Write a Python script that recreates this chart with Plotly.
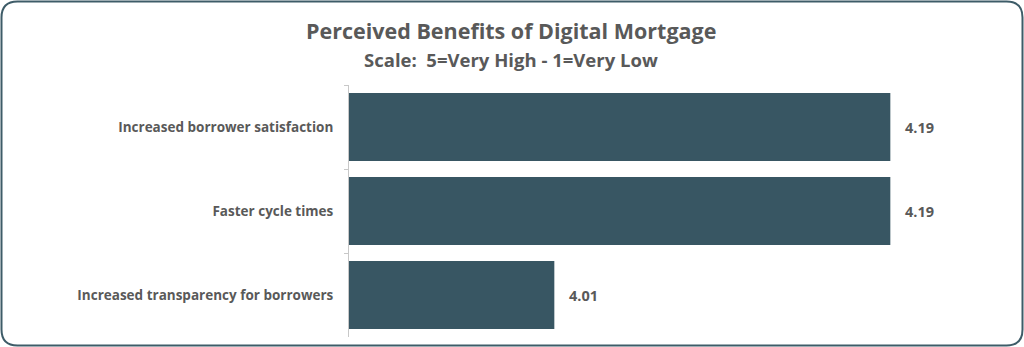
import plotly.graph_objects as go

categories = ["Increased borrower satisfaction", "Faster cycle times", "Increased transparency for borrowers"]
values = [4.19, 4.19, 4.01]
value_labels = ["4.19", "4.19", "4.01"]

W, H = 1024, 347
ML, MR, MT, MB = 349, 115, 85, 10
PW, PH = W - ML - MR, H - MT - MB

def px(x):
    return (x - ML) / PW

def py(y):
    return (H - MB - y) / PH

BAR = "#385663"
GREY = "#595959"
FONT = "Open Sans"

fig = go.Figure()
fig.add_trace(go.Bar(
    x=values, y=categories, orientation="h",
    marker=dict(color=BAR, line=dict(width=0)),
    hoverinfo="skip",
))

for c, v, t in zip(categories, values, value_labels):
    fig.add_annotation(x=v, y=c, text=t, showarrow=False, xanchor="left",
                       xshift=13, font=dict(family=FONT, size=14.5, color=GREY, weight="bold"))

fig.add_annotation(x=px(511), y=py(30), xref="paper", yref="paper", showarrow=False,
                   text="Perceived Benefits of Digital Mortgage", xanchor="center", yanchor="middle",
                   font=dict(family=FONT, size=21.5, color=GREY, weight="bold"))
fig.add_annotation(x=px(511), y=py(60), xref="paper", yref="paper", showarrow=False,
                   text="Scale:\u00a0 5=Very High - 1=Very Low", xanchor="center", yanchor="middle",
                   font=dict(family=FONT, size=18.5, color=GREY, weight="bold"))

# rounded border
x0, x1, y0, y1, r = 1.5, 1022.5, 1.5, 345.5, 16
path = (f"M {px(x0 + r)},{py(y0)} L {px(x1 - r)},{py(y0)} Q {px(x1)},{py(y0)} {px(x1)},{py(y0 + r)} "
        f"L {px(x1)},{py(y1 - r)} Q {px(x1)},{py(y1)} {px(x1 - r)},{py(y1)} "
        f"L {px(x0 + r)},{py(y1)} Q {px(x0)},{py(y1)} {px(x0)},{py(y1 - r)} "
        f"L {px(x0)},{py(y0 + r)} Q {px(x0)},{py(y0)} {px(x0 + r)},{py(y0)} Z")
fig.add_shape(type="path", path=path, xref="paper", yref="paper",
              line=dict(color="#3E5C68", width=2), layer="above")

fig.update_layout(
    width=W, height=H,
    margin=dict(l=ML, r=MR, t=MT, b=MB),
    paper_bgcolor="white", plot_bgcolor="white",
    bargap=0.19, showlegend=False,
    xaxis=dict(range=[3.9, 4.2], visible=False, fixedrange=True),
    yaxis=dict(autorange="reversed", showline=True, linecolor="#C8C8C8", linewidth=1,
               ticks="outside", tickson="boundaries", ticklen=4, tickcolor="#C8C8C8",
               showgrid=False, ticklabelstandoff=12,
               tickfont=dict(family=FONT, size=13.5, color=GREY, weight="bold"), fixedrange=True),
    font=dict(family=FONT),
)

fig.write_html("out.html")
